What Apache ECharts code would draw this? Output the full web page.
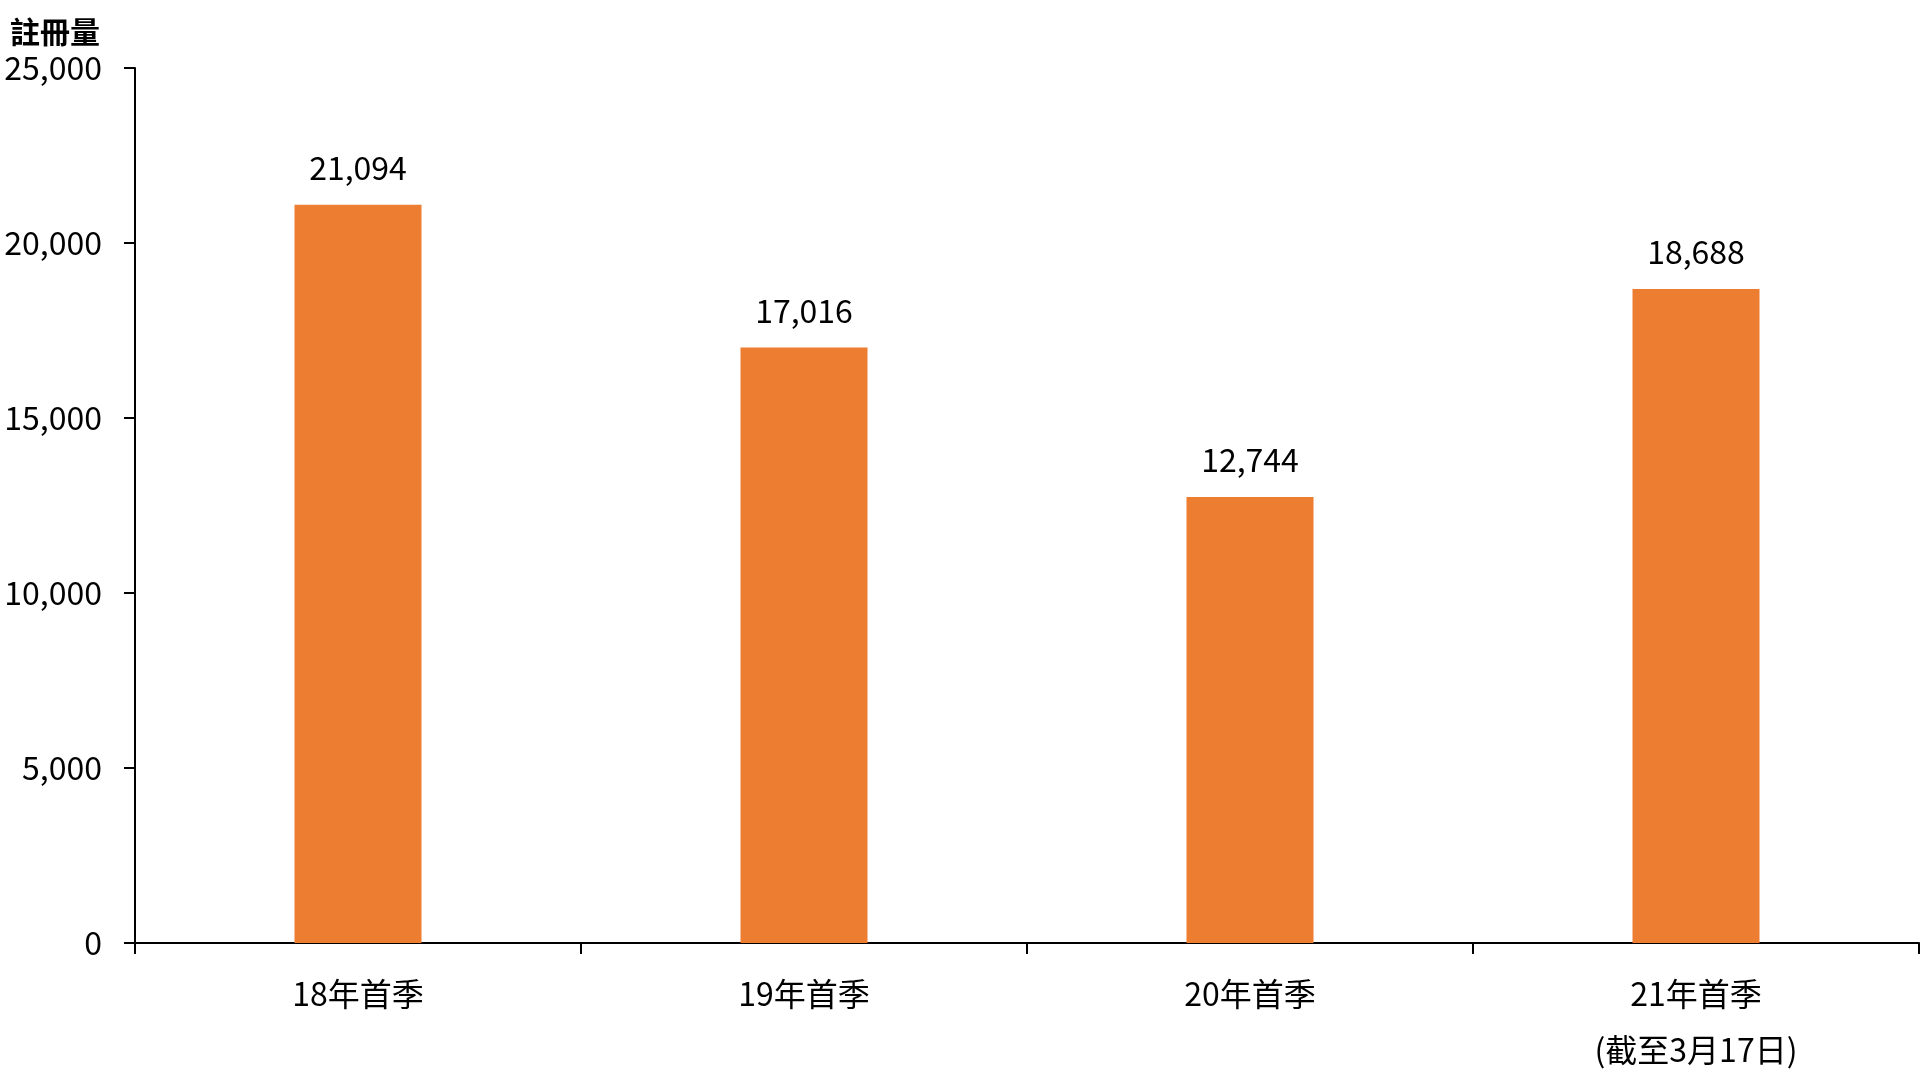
<!DOCTYPE html>
<html>
<head>
<meta charset="utf-8">
<title>註冊量</title>
<script src="https://cdn.jsdelivr.net/npm/echarts/dist/echarts.min.js"></script>
<style>
  html, body { margin: 0; padding: 0; background: #fff; }
  #chart { width: 1920px; height: 1080px; }
</style>
</head>
<body>
<div id="chart"></div>
<script>
  // 資料
  var categories = ['18年首季', '19年首季', '20年首季', '21年首季\n(截至3月17日)'];
  var registrations = [21094, 17016, 12744, 18688];
  var yTicks = [0, 5000, 10000, 15000, 20000, 25000];

  var font = '"Noto Sans CJK TC", "Noto Sans", sans-serif';
  var fmt = function (v) { return Number(v).toLocaleString('en-US'); };

  var myChart = echarts.init(document.getElementById('chart'));
  myChart.setOption({
    backgroundColor: '#fff',
    animation: false,
    textStyle: { fontFamily: font },
    title: {
      text: '註冊量',
      left: 5,
      top: 12,
      textStyle: { fontFamily: font, fontSize: 30, fontWeight: 'bold', color: '#000' }
    },
    grid: { left: 135, right: 1, top: 68, bottom: 137, containLabel: false },
    xAxis: {
      type: 'category',
      data: categories,
      axisLine: { lineStyle: { color: '#000', width: 2 } },
      axisTick: { show: true, alignWithLabel: false, length: 11, lineStyle: { color: '#000', width: 2 } },
      axisLabel: {
        color: '#000',
        fontSize: 32,
        lineHeight: 56,
        margin: 23,
        fontFamily: font
      }
    },
    yAxis: {
      type: 'value',
      min: yTicks[0],
      max: yTicks[yTicks.length - 1],
      interval: yTicks[1] - yTicks[0],
      splitLine: { show: false },
      axisLine: { show: true, lineStyle: { color: '#000', width: 2 } },
      axisTick: { show: true, length: 11, lineStyle: { color: '#000', width: 2 } },
      axisLabel: {
        color: '#000',
        fontSize: 32,
        margin: 33,
        fontFamily: font,
        formatter: fmt
      }
    },
    series: [
      {
        name: '註冊量',
        type: 'bar',
        data: registrations,
        barWidth: 127,
        itemStyle: { color: '#ED7D31' },
        label: {
          show: true,
          position: 'top',
          distance: 21,
          color: '#000',
          fontSize: 32,
          fontFamily: font,
          formatter: function (params) { return fmt(params.value); }
        }
      }
    ]
  });
</script>
</body>
</html>
